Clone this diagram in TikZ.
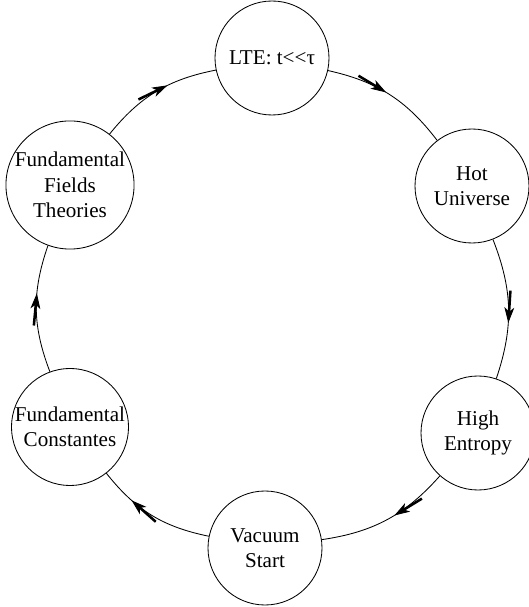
\documentclass[tikz,border=0pt]{standalone}
\usepackage{fontspec}
\setmainfont{Liberation Serif}
\usetikzlibrary{arrows.meta,decorations.markings}
\tikzset{
  state/.style={draw, circle, line width=0.6pt, minimum size=2.85cm, inner sep=0pt, align=center, font=\fontsize{15}{18}\selectfont},
  flow/.style={line width=0.6pt, decoration={markings, mark=at position #1 with {\draw[line width=1.8pt] (-23pt,0) -- (-8pt,0); \arrow{Stealth[length=11pt,width=7pt,inset=3pt]}}}, postaction={decorate}}
}
\begin{document}
\begin{tikzpicture}
    \useasboundingbox (0,0) rectangle (13.225,15.175);
    \node[state] (lte) at (6.8,13.725) {LTE: t<{}<τ};
    \node[state] (hot) at (11.8,10.525) {Hot\\Universe};
    \node[state] (entropy) at (11.95,4.35) {High\\Entropy};
    \node[state] (vacuum) at (6.625,1.475) {Vacuum\\Start};
    \node[state] (consts) at (1.75,4.5) {Fundamental\\Constantes};
    \node[state] (fields) at (1.75,10.55) {Fundamental\\Fields\\Theories};

    \draw[flow=0.47] (lte) to[bend left=20] (hot);
    \draw[flow=0.6] (hot) to[bend left=20] (entropy);
    \draw[flow=0.44] (entropy) to[bend left=20] (vacuum);
    \draw[flow=0.7] (vacuum) to[bend left=20] (consts);
    \draw[flow=0.62] (consts) to[bend left=20] (fields);
    \draw[flow=0.6] (fields) to[bend left=20] (lte);
\end{tikzpicture}
\end{document}
